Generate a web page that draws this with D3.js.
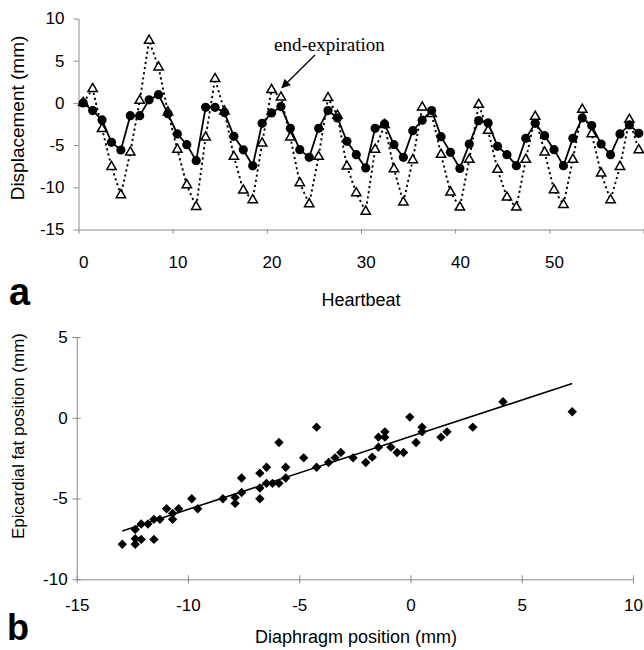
<!DOCTYPE html>
<html>
<head>
<meta charset="utf-8">
<script src="https://cdn.jsdelivr.net/npm/d3@7"></script>
<style>
body { margin: 0; background: #fff; }
text { font-family: "Liberation Sans", Arial, sans-serif; fill: #000; }
</style>
</head>
<body>
<script>
// panel a: displacement per heartbeat (beat index = array position)
let epicardial = [0, -0.91, -2.02, -4.67, -5.58, -1.51, -1.51, 0.36, 0.98, -1.30,
  -3.68, -4.95, -6.84, -0.52, -0.52, -1.15, -3.96, -5.56, -7.45, -2.42,
  -1.19, -0.44, -3.01, -5.54, -6.45, -3.01, -0.91, -1.78, -4.55, -6.13,
  -7.71, -3.01, -2.49, -4.95, -6.45, -3.29, -2.05, -0.90, -4.00, -5.86,
  -7.76, -4.87, -2.10, -2.37, -5.15, -6.13, -7.44, -4.20, -2.42, -3.88,
  -5.54, -7.44, -4.20, -1.78, -2.69, -4.87, -6.13, -3.68, -2.61, -3.60]
let diaphragm = [0, 1.66, -3.08, -7.56, -10.91, -5.86, 0.27, 7.39, 4.22, -1.11,
  -5.54, -9.73, -12.30, -4.08, 2.85, -1.0, -6.37, -10.36, -11.51, -4.79,
  1.54, 0.66, -4.08, -9.49, -11.98, -6.37, 0.59, -1.5, -7.52, -10.68,
  -12.86, -5.54, -2.6, -7.83, -11.79, -6.76, -0.52, -1.3, -6.13, -10.60,
  -12.38, -6.72, -0.20, -3.29, -7.91, -11.19, -12.38, -6.72, -1.63, -5.86,
  -10.32, -12.06, -6.72, -0.79, -3.68, -8.35, -11.51, -7.56, -1.98, -5.58]
let aYTicks = [-15, -10, -5, 0, 5, 10]
let aXLabels = [0, 10, 20, 30, 40, 50]
let aXTicks = [-0.5, 9.5, 19.5, 29.5, 39.5, 49.5, 59.5]

// panel b: scatter of diaphragm vs epicardial fat position
let scatterX = [-12.95, -12.37, -12.37, -12.37, -12.10, -12.10, -11.80, -11.53, -11.53, -11.26,
  -10.96, -10.69, -10.69, -10.42, -9.83, -9.56, -8.43, -7.88, -7.88, -7.59,
  -7.59, -6.77, -6.77, -6.77, -6.47, -6.47, -6.20, -5.91, -5.91, -5.61,
  -5.61, -4.80, -4.22, -4.22, -3.68, -3.39, -3.13, -2.58, -2.01, -1.72,
  -1.44, -1.44, -1.15, -1.15, -0.88, -0.60, -0.31, -0.03, 0.25, 0.52,
  0.52, 1.37, 1.64, 2.80, 4.16, 7.27]
let scatterY = [-7.83, -6.91, -7.49, -7.83, -6.58, -7.53, -6.58, -6.29, -7.53, -6.29,
  -5.63, -5.92, -6.29, -5.63, -5.01, -5.63, -5.01, -4.93, -5.30, -4.63,
  -3.73, -4.35, -5.01, -3.43, -3.06, -4.06, -4.06, -4.06, -1.53, -3.06,
  -3.73, -2.48, -0.58, -3.06, -2.77, -2.48, -2.15, -2.48, -2.77, -2.44,
  -1.20, -1.82, -0.87, -1.20, -1.82, -2.15, -2.15, 0.04, -1.53, -0.58,
  -0.87, -1.20, -0.87, -0.58, 0.99, 0.37]
let bXTicks = [-15, -10, -5, 0, 5, 10]
let bYTicks = [-10, -5, 0, 5]

let width = 644
let height = 650
let axisColor = '#8a8a8a'
let plain = d => String(d)   // hyphen minus, like the original

let svg = d3.select('body').append('svg')
  .attr('width', width)
  .attr('height', height)

// ---------- panel a ----------
let xA = d3.scaleLinear().domain([-0.5, 59.5]).range([78.5, 643.5])
let yA = d3.scaleLinear().domain([-15, 10]).range([229.5, 18.5])

svg.append('g')
  .attr('transform', 'translate(78.5,0)')
  .call(d3.axisLeft(yA).tickValues(aYTicks).tickFormat(plain).tickSize(5).tickSizeOuter(0).tickPadding(9))
  .call(g => g.selectAll('text').style('font-size', '17px'))

svg.append('g')
  .attr('transform', 'translate(0,229.5)')
  .call(d3.axisBottom(xA).tickValues(aXTicks).tickSize(4).tickSizeOuter(0).tickFormat(''))

svg.append('g')
  .attr('transform', 'translate(0,229.5)')
  .call(d3.axisBottom(xA).tickValues(aXLabels).tickFormat(plain).tickSize(0).tickPadding(26))
  .call(g => g.select('.domain').remove())
  .call(g => g.selectAll('text').style('font-size', '17px'))

let pointsA = epicardial.map((v, i) => ({ i: i, v: v }))
let pointsB = diaphragm.map((v, i) => ({ i: i, v: v }))
let lineA = d3.line().x(d => xA(d.i)).y(d => yA(d.v))

svg.append('path')
  .datum(pointsB)
  .attr('d', lineA)
  .attr('fill', 'none')
  .attr('stroke', '#000')
  .attr('stroke-width', 1.9)
  .attr('stroke-dasharray', '2.2,3')

svg.selectAll('.tri')
  .data(pointsB)
  .enter()
  .append('path')
  .attr('class', 'tri')
  .attr('d', d3.symbol(d3.symbolTriangle, 38))
  .attr('transform', d => `translate(${xA(d.i)},${yA(d.v)})`)
  .attr('fill', '#fff')
  .attr('stroke', '#000')
  .attr('stroke-width', 1.5)

svg.append('path')
  .datum(pointsA)
  .attr('d', lineA)
  .attr('fill', 'none')
  .attr('stroke', '#000')
  .attr('stroke-width', 1.8)

svg.selectAll('.dot')
  .data(pointsA)
  .enter()
  .append('circle')
  .attr('class', 'dot')
  .attr('cx', d => xA(d.i))
  .attr('cy', d => yA(d.v))
  .attr('r', 4.6)
  .attr('fill', '#000')

// annotation
svg.append('defs').append('marker')
  .attr('id', 'arrow')
  .attr('viewBox', '0 0 10 10')
  .attr('refX', 9).attr('refY', 5)
  .attr('markerWidth', 10).attr('markerHeight', 9)
  .attr('markerUnits', 'userSpaceOnUse')
  .attr('orient', 'auto')
  .append('path')
  .attr('d', 'M0,0 L10,5 L0,10 z')
  .attr('fill', '#000')

svg.append('line')
  .attr('x1', 315).attr('y1', 55)
  .attr('x2', xA(21) + 1).attr('y2', yA(1.8))
  .attr('stroke', '#000')
  .attr('stroke-width', 1.3)
  .attr('marker-end', 'url(#arrow)')

svg.append('text')
  .attr('x', 274).attr('y', 51)
  .style('font-family', '"Liberation Serif", "Times New Roman", serif')
  .style('font-size', '19px')
  .text('end-expiration')

svg.append('text')
  .attr('transform', 'translate(24,118) rotate(-90)')
  .attr('text-anchor', 'middle')
  .style('font-size', '19px')
  .text('Displacement (mm)')

svg.append('text')
  .attr('x', 361).attr('y', 306)
  .attr('text-anchor', 'middle')
  .style('font-size', '18px')
  .text('Heartbeat')

svg.append('text')
  .attr('x', 9).attr('y', 305)
  .style('font-size', '38px')
  .style('font-weight', 'bold')
  .text('a')

// ---------- panel b ----------
let xB = d3.scaleLinear().domain([-15, 10]).range([76.7, 633])
let yB = d3.scaleLinear().domain([-10, 5]).range([579.3, 337])

svg.append('g')
  .attr('transform', 'translate(76.7,0)')
  .call(d3.axisLeft(yB).tickValues(bYTicks).tickFormat(plain).tickSize(4).tickSizeOuter(0).tickPadding(5))
  .call(g => g.selectAll('.tick line').attr('x1', 4))
  .call(g => g.selectAll('text').style('font-size', '17px'))

svg.append('g')
  .attr('transform', 'translate(0,579.3)')
  .call(d3.axisBottom(xB).tickValues(bXTicks).tickFormat(plain).tickSize(4).tickSizeOuter(0).tickPadding(16))
  .call(g => g.selectAll('.tick line').attr('y1', -4))
  .call(g => g.selectAll('text').style('font-size', '17px'))

svg.selectAll('.domain, .tick line').attr('stroke', axisColor)

let scatter = scatterX.map((x, i) => ({ x: x, y: scatterY[i] }))

// least-squares fit drawn across the data range
let mx = d3.mean(scatterX)
let my = d3.mean(scatterY)
let slope = d3.sum(scatter, d => (d.x - mx) * (d.y - my)) / d3.sum(scatter, d => (d.x - mx) * (d.x - mx))
let intercept = my - slope * mx
let fitEnds = d3.extent(scatterX)

svg.append('line')
  .attr('x1', xB(fitEnds[0])).attr('y1', yB(slope * fitEnds[0] + intercept))
  .attr('x2', xB(fitEnds[1])).attr('y2', yB(slope * fitEnds[1] + intercept))
  .attr('stroke', '#000')
  .attr('stroke-width', 1.6)

svg.selectAll('.diamond')
  .data(scatter)
  .enter()
  .append('path')
  .attr('class', 'diamond')
  .attr('d', d3.symbol(d3.symbolSquare, 44))
  .attr('transform', d => `translate(${xB(d.x)},${yB(d.y)}) rotate(45)`)
  .attr('fill', '#000')

svg.append('text')
  .attr('transform', 'translate(24,436) rotate(-90)')
  .attr('text-anchor', 'middle')
  .style('font-size', '17px')
  .text('Epicardial fat position (mm)')

svg.append('text')
  .attr('x', 356).attr('y', 643)
  .attr('text-anchor', 'middle')
  .style('font-size', '18px')
  .text('Diaphragm position (mm)')

svg.append('text')
  .attr('x', 7).attr('y', 640)
  .style('font-size', '36px')
  .style('font-weight', 'bold')
  .text('b')
</script>
</body>
</html>
